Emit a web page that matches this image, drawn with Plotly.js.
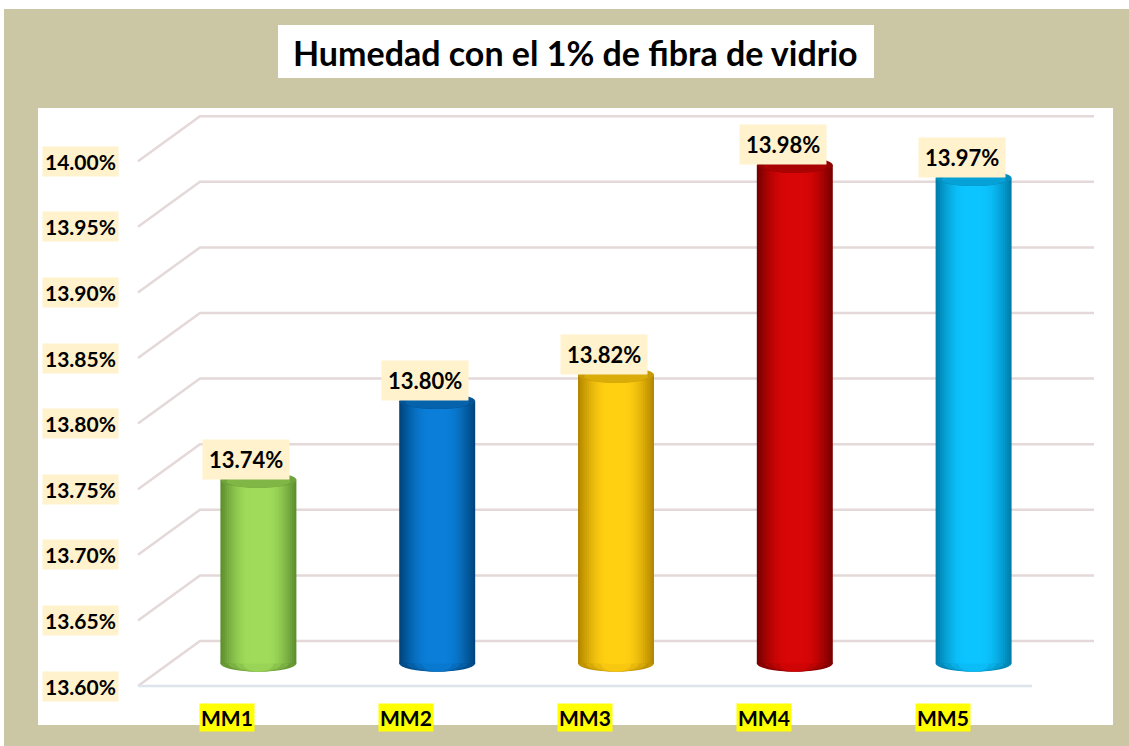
<!DOCTYPE html>
<html>
<head>
<meta charset="utf-8">
<script src="https://cdn.plot.ly/plotly-3.0.1.min.js"></script>
<style>html,body{margin:0;padding:0;background:#fff;}#chart{width:1129px;height:746px;}</style>
</head>
<body>
<div id="chart"></div>
<script>
// ---- data ----
const categories = ['MM1', 'MM2', 'MM3', 'MM4', 'MM5'];
const values = [13.74, 13.80, 13.82, 13.98, 13.97];
const valueLabels = ['13.74%', '13.80%', '13.82%', '13.98%', '13.97%'];
const yTicks = [13.60, 13.65, 13.70, 13.75, 13.80, 13.85, 13.90, 13.95, 14.00];
const yTickLabels = ['13.60%', '13.65%', '13.70%', '13.75%', '13.80%', '13.85%', '13.90%', '13.95%', '14.00%'];
const titleText = 'Humedad con el 1% de fibra de vidrio';
const edgeColors = ['#5E9030', '#00457E', '#B58800', '#7A0000', '#007EAC'];
const centerColors = ['#A0DC5A', '#0A7ED8', '#FFCF12', '#D80606', '#0CC4FF'];

// ---- geometry (pixels) ----
const W = 1129, H = 746;
const yMin = 13.60;
const xc0 = 227.4, sx = 178.8;   // front plane: pixel of category 0, px per category
const yc0 = 686, sy = 1312;      // front plane: pixel of 13.60, px per unit
const depthDx = 62, depthDy = -45; // back plane offset
const barW = 0.425;
const ellH = 8 / sy;             // ellipse half-height in data units

function xRange(shift) { const c = xc0 + shift; return [(0 - c) / sx, (W - c) / sx]; }
function yRange(shift) { const c = yc0 + shift; return [yMin + (c - H) / sy, yMin + c / sy]; }

function hex2rgb(h) { return [1, 3, 5].map(k => parseInt(h.substr(k, 2), 16)); }
function mix(a, b, t) {
  const A = hex2rgb(a), B = hex2rgb(b);
  return 'rgb(' + A.map((v, k) => Math.round(v + (B[k] - v) * t)).join(',') + ')';
}

const idx = categories.map((c, i) => i);
const traces = [];

// back gridlines + diagonals + floor line (front axes)
const gx = [], gy = [];
const bdx = depthDx / sx, bdy = -depthDy / sy;
yTicks.forEach(t => {
  gx.push(-0.5, -0.5 + bdx, 4.5 + bdx, null);
  gy.push(t, t + bdy, t + bdy, null);
});
traces.push({x: gx, y: gy, xaxis: 'x', yaxis: 'y', mode: 'lines', type: 'scatter',
  line: {color: '#E4D8D8', width: 2.5}, hoverinfo: 'skip', showlegend: false});
traces.push({x: [-0.5, 4.5], y: [yMin, yMin], xaxis: 'x', yaxis: 'y', mode: 'lines', type: 'scatter',
  line: {color: '#DDE4EC', width: 2.5}, hoverinfo: 'skip', showlegend: false});

// cylinder bodies: layered bars for shading
const nLayers = 14;
for (let k = 0; k < nLayers; k++) {
  const wf = 1 - k * (0.75 / (nLayers - 1));
  const t = Math.sin((k / (nLayers - 1)) * Math.PI / 2);
  traces.push({
    type: 'bar', x: idx, y: values.map(v => v - yMin), base: yMin,
    xaxis: 'x2', yaxis: 'y2', width: barW * wf,
    marker: {color: idx.map(i => mix(edgeColors[i], centerColors[i], t)), line: {width: 0}},
    hoverinfo: 'skip', showlegend: false
  });
}

const shapes = [];
// background tan and white panel
shapes.push({type: 'rect', xref: 'paper', yref: 'paper', x0: 4 / W, x1: 1, y0: 0, y1: (H - 9) / H,
  fillcolor: '#CBC7A4', line: {width: 0}, layer: 'below'});
shapes.push({type: 'rect', xref: 'paper', yref: 'paper', x0: 38 / W, x1: 1113 / W, y0: (H - 725) / H, y1: (H - 108) / H,
  fillcolor: '#FFFFFF', line: {width: 0}, layer: 'below'});
// title box
shapes.push({type: 'rect', xref: 'paper', yref: 'paper', x0: 278 / W, x1: 874 / W, y0: (H - 78) / H, y1: (H - 25) / H,
  fillcolor: '#FFFFFF', line: {width: 0}, layer: 'below'});

// bottom ellipses (under bars)
idx.forEach(i => {
  [[1.0, 0.15], [0.8, 0.45], [0.6, 0.7], [0.4, 0.9]].forEach(([wf, t]) => {
    shapes.push({type: 'circle', xref: 'x2', yref: 'y2',
      x0: i - barW * wf / 2, x1: i + barW * wf / 2, y0: yMin - ellH, y1: yMin + ellH,
      fillcolor: mix(edgeColors[i], centerColors[i], t), line: {width: 0}, layer: 'below'});
  });
});
// top ellipses
idx.forEach(i => {
  const v = values[i];
  shapes.push({type: 'circle', xref: 'x2', yref: 'y2',
    x0: i - barW / 2, x1: i + barW / 2, y0: v - ellH, y1: v + ellH,
    fillcolor: mix(edgeColors[i], centerColors[i], 0.25), line: {width: 0}, layer: 'above'});
  shapes.push({type: 'circle', xref: 'x2', yref: 'y2',
    x0: i - barW * 0.42, x1: i + barW * 0.42, y0: v - ellH * 1.0, y1: v + ellH * 0.6,
    fillcolor: mix(edgeColors[i], centerColors[i], 0.5), line: {width: 0}, layer: 'above'});
});

const font = 'Lato, "Open Sans", sans-serif';
const annotations = [];
annotations.push({xref: 'paper', yref: 'paper', x: 575 / W, y: (H - 52) / H, xanchor: 'center', yanchor: 'middle',
  text: '<b>' + titleText + '</b>', showarrow: false, font: {family: font, size: 34, color: '#000'}});
yTicks.forEach((t, k) => {
  annotations.push({xref: 'paper', yref: 'y', x: 80.5 / W, y: t, xanchor: 'center', yanchor: 'middle',
    text: '<b>' + yTickLabels[k] + '</b>', showarrow: false, bgcolor: '#FFF2CC', borderpad: 2,
    font: {family: font, size: 21, color: '#000'}});
});
idx.forEach(i => {
  annotations.push({xref: 'x', yref: 'paper', x: i, y: (H - 717) / H, xanchor: 'center', yanchor: 'middle',
    text: '<b>' + categories[i] + '</b>', showarrow: false, bgcolor: '#FFFF00', borderpad: 1,
    font: {family: font, size: 21, color: '#000'}});
  annotations.push({xref: 'x2', yref: 'y2', x: i, y: values[i], xanchor: 'center', yanchor: 'bottom',
    xshift: -12, yshift: 0,
    text: '<b>' + valueLabels[i] + '</b>', showarrow: false, bgcolor: '#FFF2CC', borderpad: 6,
    font: {family: font, size: 22, color: '#000'}});
});

const axBase = {visible: false, fixedrange: true, showgrid: false, zeroline: false};
const layout = {
  width: W, height: H, margin: {l: 0, r: 0, t: 0, b: 0, pad: 0},
  paper_bgcolor: '#FFFFFF', plot_bgcolor: 'rgba(0,0,0,0)',
  barmode: 'overlay', showlegend: false,
  xaxis: Object.assign({}, axBase, {range: xRange(0), domain: [0, 1]}),
  yaxis: Object.assign({}, axBase, {range: yRange(0), domain: [0, 1]}),
  xaxis2: Object.assign({}, axBase, {range: xRange(depthDx / 2), overlaying: 'x', anchor: 'y2'}),
  yaxis2: Object.assign({}, axBase, {range: yRange(depthDy / 2), overlaying: 'y', anchor: 'x2'}),
  shapes: shapes, annotations: annotations
};
Plotly.newPlot('chart', traces, layout, {staticPlot: true, displayModeBar: false});
</script>
</body>
</html>
